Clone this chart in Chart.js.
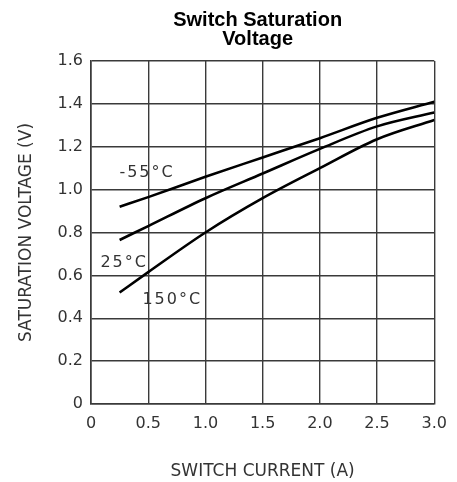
<!DOCTYPE html>
<html>
<head>
<meta charset="utf-8">
<script src="https://cdn.jsdelivr.net/npm/chart.js@4.4.1/dist/chart.umd.min.js"></script>
<style>
    html, body { margin: 0; padding: 0; background: #fff; }
    #wrap { width: 457px; height: 482px; }
</style>
</head>
<body>
<div id="wrap"><canvas id="satChart"></canvas></div>
<script>
const titleLines = ["Switch Saturation", "Voltage"];
const seriesNames = ["-55\u00B0C", "25\u00B0C", "150\u00B0C"];

const switchCurrent = [0.25, 0.5, 1.0, 1.5, 2.0, 2.5, 3.0];
const vMinus55 = [0.92, 0.965, 1.06, 1.15, 1.24, 1.335, 1.41];
const v25 = [0.765, 0.83, 0.96, 1.075, 1.19, 1.295, 1.36];
const v150 = [0.52, 0.615, 0.80, 0.96, 1.10, 1.235, 1.325];

const xTickValues = [0, 0.5, 1.0, 1.5, 2.0, 2.5, 3.0];
const xTickLabels = ["0", "0.5", "1.0", "1.5", "2.0", "2.5", "3.0"];
const yTickValues = [0, 0.2, 0.4, 0.6, 0.8, 1.0, 1.2, 1.4, 1.6];
const yTickLabels = ["0", "0.2", "0.4", "0.6", "0.8", "1.0", "1.2", "1.4", "1.6"];

// where each curve's name sits, in data units
const labelAnchors = [[0.49, 1.08], [0.29, 0.66], [0.71, 0.484]];

const inkColor = "#333";
const gridColor = "#3a3a3a";

function toPoints(ys) {
    return switchCurrent.map((x, i) => ({ x: x, y: ys[i] }));
}

function curve(ys) {
    return {
        data: toPoints(ys),
        borderColor: "#000",
        borderWidth: 2.6,
        pointRadius: 0,
        fill: false,
        cubicInterpolationMode: "monotone"
    };
}

const overlayText = {
    id: "overlayText",
    afterDraw(chart) {
        const ctx = chart.ctx;
        const area = chart.chartArea;
        const xs = chart.scales.x;
        const ys = chart.scales.y;

        ctx.save();
        ctx.textAlign = "center";
        ctx.textBaseline = "middle";

        ctx.fillStyle = "#000";
        ctx.font = "bold 20px 'Liberation Sans'";
        const cx = (area.left + area.right) / 2 - 5;
        ctx.fillText(titleLines[0], cx, 20);
        ctx.fillText(titleLines[1], cx, 39);

        ctx.fillStyle = inkColor;
        ctx.font = "16px 'DejaVu Sans'";
        ctx.letterSpacing = "2px";
        seriesNames.forEach((name, i) => {
            const a = labelAnchors[i];
            ctx.fillText(name, xs.getPixelForValue(a[0]), ys.getPixelForValue(a[1]));
        });
        ctx.restore();
    }
};

new Chart(document.getElementById("satChart"), {
    type: "line",
    data: {
        datasets: [curve(vMinus55), curve(v25), curve(v150)]
    },
    options: {
        responsive: true,
        maintainAspectRatio: false,
        animation: false,
        layout: {
            padding: { top: 61, right: 19.5, bottom: 0, left: 0 }
        },
        plugins: {
            legend: { display: false },
            tooltip: { enabled: false }
        },
        scales: {
            x: {
                type: "linear",
                min: 0,
                max: 3,
                afterBuildTicks: scale => {
                    scale.ticks = xTickValues.map(v => ({ value: v }));
                },
                afterFit: scale => { scale.height = 78; },
                grid: { color: gridColor, lineWidth: 1.4, drawTicks: false },
                border: { color: gridColor, width: 1.6 },
                ticks: {
                    padding: 10,
                    color: inkColor,
                    font: { family: "DejaVu Sans", size: 16 },
                    maxRotation: 0,
                    callback: (value, index) => xTickLabels[index]
                },
                title: {
                    display: true,
                    text: "SWITCH CURRENT (A)",
                    color: inkColor,
                    font: { family: "DejaVu Sans", size: 17 },
                    padding: { top: 9, bottom: 0 }
                }
            },
            y: {
                min: 0,
                max: 1.6,
                afterBuildTicks: scale => {
                    scale.ticks = yTickValues.map(v => ({ value: v }));
                },
                afterFit: scale => { scale.width = 91; },
                grid: { color: gridColor, lineWidth: 1.4, drawTicks: false },
                border: { color: gridColor, width: 1.6 },
                ticks: {
                    padding: 8,
                    color: inkColor,
                    font: { family: "DejaVu Sans", size: 16 },
                    callback: (value, index) => yTickLabels[index]
                },
                title: {
                    display: true,
                    text: "SATURATION VOLTAGE (V)",
                    color: inkColor,
                    font: { family: "DejaVu Sans", size: 17 },
                    padding: { top: 16, bottom: 0 }
                }
            }
        }
    },
    plugins: [overlayText]
});
</script>
</body>
</html>
